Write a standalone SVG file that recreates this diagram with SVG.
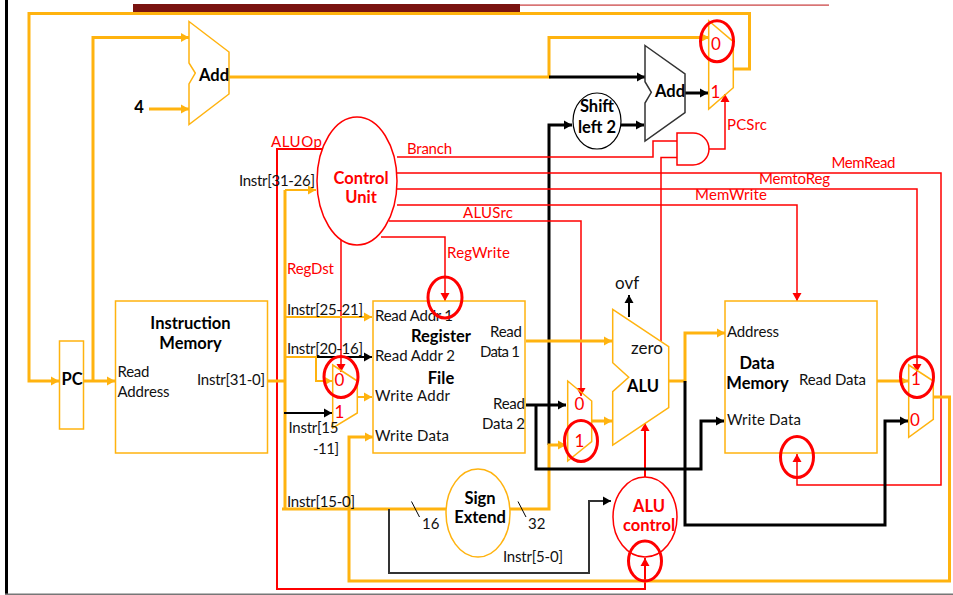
<svg xmlns="http://www.w3.org/2000/svg" width="953" height="595" viewBox="0 0 953 595">
<defs>
<marker id="ao" markerUnits="userSpaceOnUse" markerWidth="10" markerHeight="10" refX="9" refY="5" orient="auto"><path d="M1,0.5 L9,5 L1,9.5 Z" fill="#FFB30F"/></marker>
<marker id="ak" markerUnits="userSpaceOnUse" markerWidth="10" markerHeight="10" refX="9" refY="5" orient="auto"><path d="M1,0.5 L9,5 L1,9.5 Z" fill="#000"/></marker>
<marker id="ar" markerUnits="userSpaceOnUse" markerWidth="10" markerHeight="10" refX="9" refY="5" orient="auto"><path d="M1,0.5 L9,5 L1,9.5 Z" fill="#F00"/></marker>
</defs>
<style>
text{font-family:"Lato","Open Sans","Liberation Sans",sans-serif;font-size:15px;fill:#111}
.b{font-weight:700;font-size:16.5px;fill:#000;text-anchor:middle}
.r{fill:#F00}
.rb{font-weight:700;font-size:16.5px;fill:#F00;text-anchor:middle}
.d{fill:#F00;font-size:17px;text-anchor:middle}
.n{fill:none}
.ot{fill:none;stroke:#FFB30F;stroke-width:3}
.on{fill:none;stroke:#FFB30F;stroke-width:2}
.kt{fill:none;stroke:#000;stroke-width:3}
.kn{fill:none;stroke:#000;stroke-width:2}
.kg{fill:none;stroke:#333;stroke-width:2}
.rt{fill:none;stroke:#F00;stroke-width:1.5}
.rm{fill:none;stroke:#F00;stroke-width:2}
.box{fill:#fff;stroke:#FFB30F;stroke-width:1.5}
.boxn{fill:none;stroke:#FFB30F;stroke-width:1.5}
.c{fill:none;stroke:#F00;stroke-width:3}
</style>
<rect width="953" height="595" fill="#fff"/>
<rect x="5" y="0" width="3" height="595" fill="#000"/>
<rect x="5" y="593.5" width="948" height="1.5" fill="#777"/>
<rect x="133" y="4" width="387" height="8" fill="#7A1410"/>
<rect x="520" y="4.5" width="309" height="1.2" fill="#C8393A"/>

<g id="connectors">
<path class="ot" marker-end="url(#ao)" d="M733,69 H749.500 V13.500 H29 V381 H59"/>
<path class="ot" marker-end="url(#ao)" d="M84,381 H115"/>
<path class="ot" marker-end="url(#ao)" d="M93,381 V37.500 H189"/>
<path class="ot" marker-end="url(#ao)" d="M149,109 H189"/>
<path class="ot" marker-end="url(#ao)" d="M229,77 H549 V37.500 H709"/>
<path class="kt" marker-end="url(#ak)" d="M549,77 H645"/>
<path class="kt" marker-end="url(#ak)" d="M685,93 H708"/>
<path class="kt" marker-end="url(#ak)" d="M621,125 H644"/>
<path class="kt" marker-end="url(#ak)" d="M549,445 V125 H572"/>

<path class="rt" marker-end="url(#ar)" d="M709,149 H725 V94"/>
<path class="rt" d="M397,157 H653 V141 H677"/>
<path class="rt" d="M661,341 V157.500 H677"/>
<path class="rt" marker-end="url(#ar)" d="M397,173 H941 V485 H797 V454"/>
<path class="rt" marker-end="url(#ar)" d="M397,189 H917 V372"/>
<path class="rt" marker-end="url(#ar)" d="M397,205 H797 V301"/>
<path class="rt" marker-end="url(#ar)" d="M389,221 H581 V396"/>
<path class="rt" marker-end="url(#ar)" d="M381,237 H445 V301"/>
<path class="rt" marker-end="url(#ar)" d="M341,237 V372"/>
<path class="rm" marker-end="url(#ar)" d="M325,149 H277 V589 H645 V558"/>
<path class="rm" marker-end="url(#ar)" d="M645,477 V423"/>

<path class="ot" d="M268,381 H285"/>
<path class="ot" d="M285,509 V190"/>
<path class="on" marker-end="url(#ao)" d="M285,190 H316"/>
<path class="on" marker-end="url(#ao)" d="M285,317 H372"/>
<path class="on" marker-end="url(#ao)" d="M285,357 H316 V381 H332"/>
<path class="kn" marker-end="url(#ak)" d="M317,357 H372"/>
<path class="kn" marker-end="url(#ak)" d="M284,413 H332"/>
<path class="on" marker-end="url(#ao)" d="M357,397 H372"/>
<path class="ot" d="M282,509 H446"/>
<path class="ot" marker-end="url(#ao)" d="M934,397 H949.500 V581 H349 V437 H373"/>
<path class="ot" marker-end="url(#ao)" d="M510,509 H549 V445 H566"/>
<path class="kg" marker-end="url(#ak)" d="M389,509 V573 H589 V501 H611"/>
<path class="n" stroke="#000" stroke-width="1" d="M411.500,501.500 L419.500,517 M518,501.500 L526,517"/>
<path class="ot" marker-end="url(#ao)" d="M526,341 H612"/>
<path class="kt" marker-end="url(#ak)" d="M526,405 H566"/>
<path class="kt" marker-end="url(#ak)" d="M536,405 V469 H701 V421 H724"/>
<path class="ot" marker-end="url(#ao)" d="M592,421 H612"/>
<path class="ot" marker-end="url(#ao)" d="M668,381 H685 V333 H725"/>
<path class="kt" marker-end="url(#ak)" d="M685,381 V525 H885 V421 H908"/>
<path class="ot" marker-end="url(#ao)" d="M877,381 H908"/>
<path class="kn" marker-end="url(#ak)" d="M629,317 V295"/>
</g>

<g id="adder-pc"><path class="box" d="M189,21.500 L229,52 V94 L189,124.500 V84 L195.300,73 L189,63 Z"/><text class="b" x="214" y="81">Add</text></g>
<g id="const-4"><text class="b" x="139" y="113">4</text></g>
<g id="adder-branch"><path fill="#fff" stroke="#333" stroke-width="1.5" d="M645,45.500 L685,74 V112.500 L645,141 V103 L651.300,92.300 L645,81.700 Z"/><text class="b" x="670" y="97">Add</text></g>
<g id="shift-left-2"><ellipse cx="597" cy="121" rx="24" ry="28" fill="#fff" stroke="#000" stroke-width="1.2"/><text class="b" x="597" y="112">Shift</text><text class="b" x="597" y="133">left 2</text></g>
<g id="and-gate"><path class="rt" fill="#fff" d="M677,133 H693 A16,16 0 0 1 693,165 H677 Z"/></g>
<g id="pc"><rect class="boxn" x="59.500" y="341" width="24" height="88"/><text class="b" x="72" y="385">PC</text></g>
<g id="instruction-memory"><rect class="boxn" x="115.500" y="301" width="152" height="152"/>
<text class="b" x="190.500" y="329">Instruction</text><text class="b" x="190.500" y="349">Memory</text>
<text x="117.500" y="377" textLength="32">Read</text><text x="117.500" y="397" textLength="52">Address</text><text x="197" y="385" textLength="68">Instr[31-0]</text></g>
<g id="register-file"><rect class="boxn" x="373" y="301" width="152" height="152"/>
<text class="b" x="441" y="342">Register</text><text class="b" x="441" y="384">File</text>
<text x="375" y="321" textLength="78">Read Addr 1</text><text x="375" y="361" textLength="80">Read Addr 2</text><text x="375" y="401" textLength="75">Write Addr</text><text x="375" y="441" textLength="74">Write Data</text>
<text x="490" y="337" textLength="32">Read</text><text x="480" y="357" textLength="40">Data 1</text><text x="493" y="409" textLength="32">Read</text><text x="482" y="429" textLength="43">Data 2</text></g>
<g id="data-memory"><rect class="boxn" x="725" y="301" width="152" height="152"/>
<text class="b" x="757" y="369">Data</text><text class="b" x="757.500" y="389">Memory</text>
<text x="727" y="337" textLength="52">Address</text><text x="727" y="425" textLength="74">Write Data</text><text x="799" y="385" textLength="67">Read Data</text></g>
<g id="alu"><path class="boxn" d="M612.700,309.300 L668.700,346.700 V407.700 L612.700,445 V391.700 L628.700,377.300 L612.700,362.700 Z"/><text x="631" y="354" style="font-size:17px">zero</text><text class="b" x="643" y="392">ALU</text><text x="615" y="289" style="font-size:17px">ovf</text></g>
<g id="sign-extend"><ellipse cx="478" cy="513" rx="32" ry="44" fill="#fff" stroke="#FFB30F" stroke-width="1.5"/><text class="b" x="480" y="504">Sign</text><text class="b" x="480" y="523">Extend</text></g>
<g id="control-unit"><ellipse cx="357" cy="181" rx="40" ry="64" fill="#fff" stroke="#F00" stroke-width="1.5"/><text class="rb" x="361" y="184">Control</text><text class="rb" x="361" y="203">Unit</text></g>
<g id="alu-control"><ellipse cx="645" cy="517" rx="32" ry="40" fill="#fff" stroke="#F00" stroke-width="1.5"/><text class="rb" x="649" y="512">ALU</text><text class="rb" x="649" y="531">control</text></g>

<g id="mux-pc"><path class="boxn" d="M708.700,20.700 L733.300,41.700 V87.700 L708.700,109 Z"/><text class="d" x="716" y="50">0</text><text class="d" x="715.500" y="98">1</text></g>
<g id="mux-regdst"><path class="boxn" d="M332.700,365 L357.300,381 V413 L332.700,428 Z"/><text class="d" x="339.500" y="386">0</text><text class="d" x="339.500" y="418">1</text></g>
<g id="mux-alusrc"><path class="boxn" d="M567.700,381 L591.700,401 V441.700 L567.700,461 Z"/><text class="d" x="579.500" y="410">0</text><text class="d" x="579.500" y="447">1</text></g>
<g id="mux-memtoreg"><path class="boxn" d="M908.700,365 L933.300,381 V419.300 L908.700,437.300 Z"/><text class="d" x="916" y="385">1</text><text class="d" x="915" y="426">0</text></g>

<g id="highlight-circles">
<ellipse class="c" cx="717" cy="41.300" rx="16.500" ry="20.500"/>
<ellipse class="c" cx="445" cy="297.500" rx="17" ry="20.500"/>
<ellipse class="c" cx="341" cy="377" rx="17" ry="20.500"/>
<ellipse class="c" cx="581" cy="441" rx="16.500" ry="20.500"/>
<ellipse class="c" cx="797" cy="457" rx="16.500" ry="20.500"/>
<ellipse class="c" cx="917" cy="377" rx="16.500" ry="20.500"/>
<ellipse class="c" cx="645" cy="561" rx="16.500" ry="20"/>
</g>

<g id="labels">
<text class="r" x="271" y="147" textLength="51">ALUOp</text>
<text class="r" x="407" y="154" textLength="45">Branch</text>
<text class="r" x="287" y="274" textLength="47">RegDst</text>
<text class="r" x="447" y="258" textLength="63">RegWrite</text>
<text class="r" x="463" y="218" textLength="50">ALUSrc</text>
<text class="r" x="831.500" y="168" textLength="64">MemRead</text>
<text class="r" x="759" y="184" textLength="71">MemtoReg</text>
<text class="r" x="695" y="200" textLength="72">MemWrite</text>
<text class="r" x="727" y="130" textLength="40">PCSrc</text>
<text x="239" y="186" textLength="76">Instr[31-26]</text>
<text x="287" y="315" textLength="76">Instr[25-21]</text>
<text x="287" y="354" textLength="76">Instr[20-16]</text>
<text x="288.500" y="433" textLength="50">Instr[15</text>
<text x="313" y="454" textLength="26">-11]</text>
<text x="287" y="507" textLength="68">Instr[15-0]</text>
<text x="422" y="529">16</text>
<text x="528" y="529">32</text>
<text x="503" y="562" textLength="60">Instr[5-0]</text>
</g>
</svg>
